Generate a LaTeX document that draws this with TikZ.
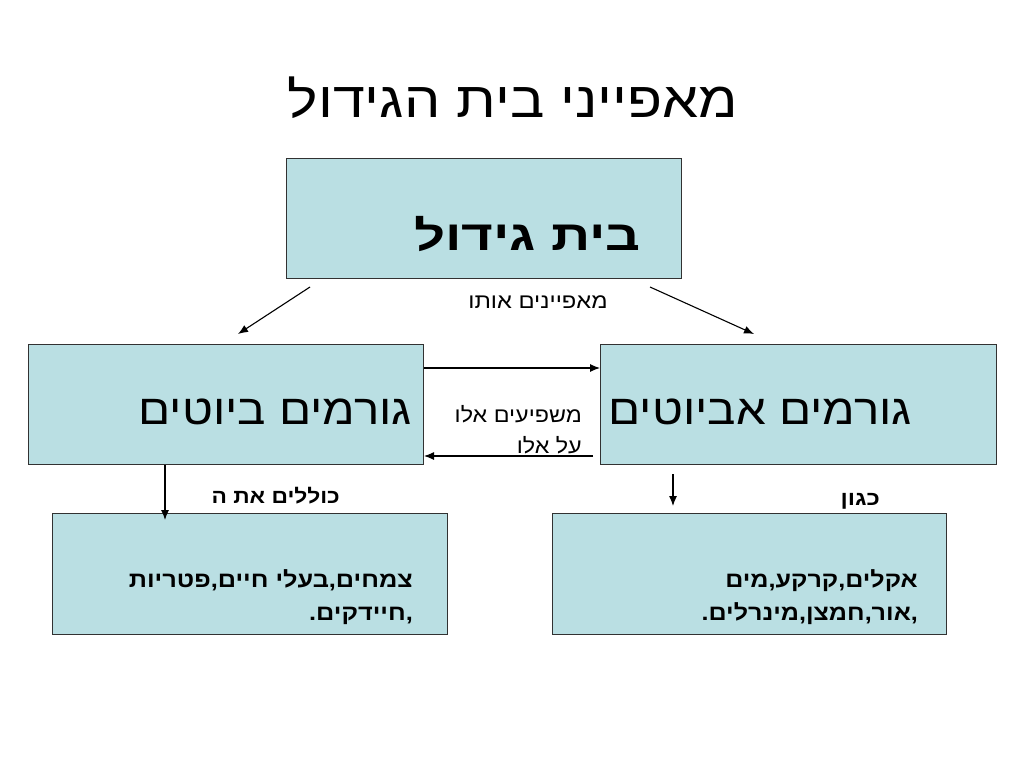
\documentclass[tikz,border=0pt]{standalone}
\usepackage{fontspec}
\setmainfont{Liberation Sans}
\newfontfamily\hebfont[Script=Hebrew]{Liberation Sans}
\TeXXeTstate=1
\usetikzlibrary{arrows.meta,calc}
\newcommand{\heb}[2][1]{{\hebfont\addfontfeature{FakeStretch=#1}\beginR #2\endR}}
\definecolor{boxfill}{RGB}{186,223,227}
\definecolor{boxline}{RGB}{50,50,50}
\begin{document}
\begin{tikzpicture}[x=1pt,y=-1pt,
  box/.style={draw=boxline, fill=boxfill, line width=1pt, minimum width=395pt, minimum height=120pt, inner sep=0pt, anchor=north west},
  arr/.style={-{Latex[length=10pt,width=8pt]}, line width=1.1pt},
  txt/.style={inner sep=0pt, anchor=base east},
  txtc/.style={inner sep=0pt, anchor=base}]
\useasboundingbox[fill=white] (0,0) rectangle (1024,768);
% title
\node[txtc, font=\fontsize{50}{60}\selectfont] (title) at (513,117) {\heb[1.15]{מאפייני בית הגידול}};
% boxes
\node[box] (top) at (286,158) {};
\node[box] (bio) at (28,344) {};
\node[box, minimum width=396pt] (abio) at (600,344) {};
\node[box, minimum height=121pt] (bl) at (52,513) {};
\node[box, minimum width=394pt, minimum height=121pt] (br) at (552,513) {};
% box texts
\node[txt, font=\bfseries\fontsize{42}{50}\selectfont] (toptxt) at (641,250) {\heb[1.3]{בית גידול}};
\node[txt, font=\fontsize{42}{50}\selectfont] (biotxt) at (412,424) {\heb[1.13]{גורמים ביוטים}};
\node[txt, font=\fontsize{42}{50}\selectfont] (abiotxt) at (912,424) {\heb[1.13]{גורמים אביוטים}};
\node[txt, font=\bfseries\fontsize{22}{26}\selectfont] (bltxta) at (413,587) {\heb[1.15]{צמחים,בעלי חיים,פטריות}};
\node[txt, font=\bfseries\fontsize{22}{26}\selectfont] (bltxtb) at (413,620) {\heb[1.15]{,חיידקים.}};
\node[txt, font=\bfseries\fontsize{22}{26}\selectfont] (brtxta) at (918,587) {\heb[1.14]{אקלים,קרקע,מים}};
\node[txt, font=\bfseries\fontsize{22}{26}\selectfont] (brtxtb) at (918,620) {\heb[1.14]{,אור,חמצן,מינרלים.}};
% labels
\node[txtc, font=\fontsize{21}{25}\selectfont] (lblchar) at (538,308) {\heb[1.13]{מאפיינים אותו}};
\node[txt, font=\fontsize{21}{25}\selectfont] (lblinfa) at (582,422) {\heb[1.11]{משפיעים אלו}};
\node[txt, font=\fontsize{21}{25}\selectfont] (lblinfb) at (582,453) {\heb[1.11]{על אלו}};
\node[txt, font=\bfseries\fontsize{20}{24}\selectfont] (lblincl) at (340,503) {\heb[1.14]{כוללים את ה}};
\node[txt, font=\bfseries\fontsize{20}{24}\selectfont] (lblsuch) at (880,505) {\heb[1.2]{כגון}};
% arrow end points
\coordinate (c1s) at (310,287);
\coordinate (c1e) at (238,334);
\coordinate (c2s) at (650,287);
\coordinate (c2e) at (754,334);
\coordinate (c3s) at (673,474);
\coordinate (c3e) at (673,506);
% arrows
\draw[arr] (c1s) -- (c1e);
\draw[arr] (c2s) -- (c2e);
\draw[arr] ($(bio.north east)+(0,24)$) -- ($(abio.north west)+(0,24)$);
\draw[arr] ($(abio.north west)+(-7,112)$) -- ($(bio.north east)+(0,112)$);
\draw[arr] ($(bio.south west)+(137,0)$) -- ($(bl.north west)+(113,7)$);
\draw[arr] (c3s) -- (c3e);
\end{tikzpicture}
\end{document}
